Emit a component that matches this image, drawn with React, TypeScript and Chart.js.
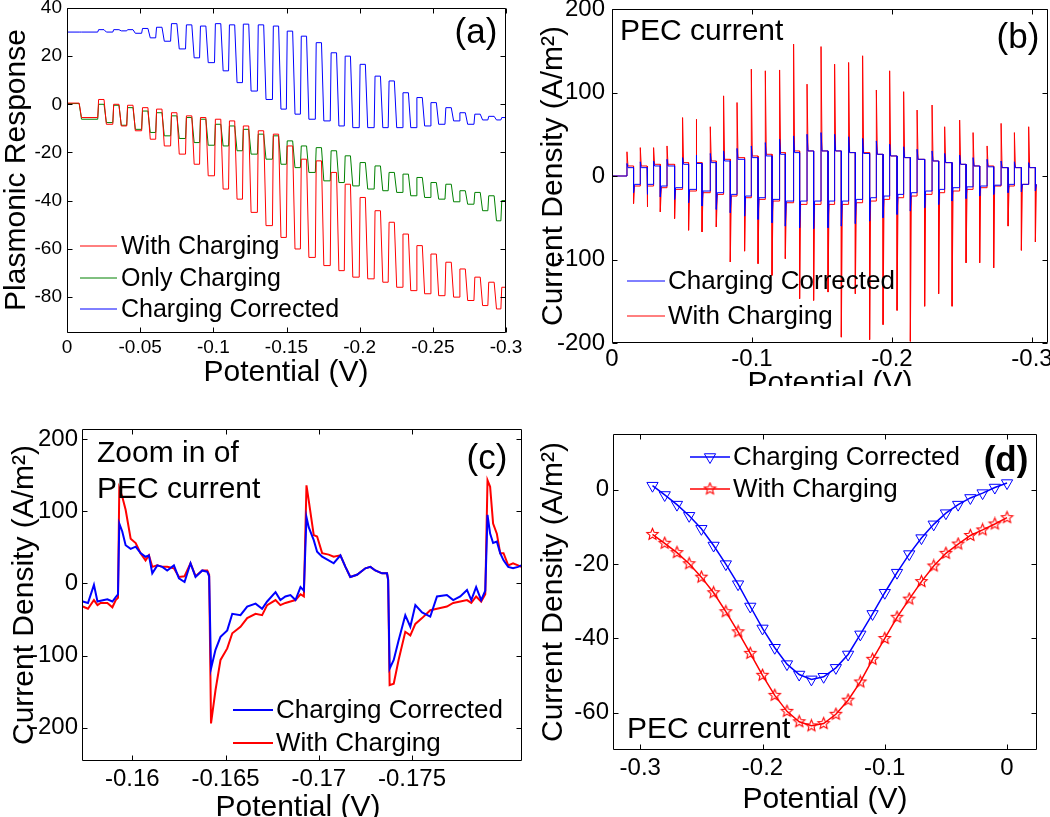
import React, { useEffect, useRef } from "react";
import { Chart, registerables } from "chart.js";

Chart.register(...registerables);

const FONT = "'Liberation Sans', Arial, Helvetica, sans-serif";
const RED = "rgb(255,0,0)";
const GREEN = "rgb(0,128,0)";
const BLUE = "rgb(0,0,255)";

// ---------------- Panel (a): plasmonic response ----------------
const A_X_TICKS = [0, -0.05, -0.1, -0.15, -0.2, -0.25, -0.3];
const A_X_LABELS = ["0", "-0.05", "-0.1", "-0.15", "-0.2", "-0.25", "-0.3"];
const A_Y_TICKS = [-80, -60, -40, -20, 0, 20, 40];
const A_Y_LABELS = ["-80", "-60", "-40", "-20", "0", "20", "40"];
// potentials where light switches on (rising edge) and off (falling edge)
const A_RISE = [-0.0213, -0.0316, -0.0411, -0.0513, -0.0609, -0.0711, -0.0813, -0.0909, -0.1011, -0.1107, -0.1202, -0.1304, -0.1407, -0.1502, -0.1598, -0.17, -0.1802, -0.1898, -0.2, -0.2102, -0.2198, -0.2293, -0.2388, -0.2484, -0.2586, -0.2682, -0.2784, -0.2879, -0.2968];
const A_FALL = [-0.0091, -0.0261, -0.0363, -0.0459, -0.0561, -0.0657, -0.0759, -0.0861, -0.0957, -0.1059, -0.1154, -0.125, -0.1352, -0.1454, -0.155, -0.1645, -0.1747, -0.185, -0.1945, -0.2047, -0.215, -0.2245, -0.2341, -0.2436, -0.2532, -0.2634, -0.273, -0.2832, -0.2927];
const A_RED_HI = [0.5, 2, 0, -0.4, -1.4, -2, -3.5, -4.8, -5.5, -6.2, -6.9, -9, -11, -12.4, -17.3, -22.8, -23.5, -28.3, -33.2, -38.7, -44.2, -49, -53.9, -58.7, -62.2, -65.6, -68.4, -71.8, -73.9, -76];
const A_RED_LO = [-5.5, -8.3, -9, -11, -14.5, -17.3, -20.7, -24.9, -29.7, -35.2, -39.4, -44.9, -50.4, -55.3, -60.1, -63.6, -67, -69.1, -71.8, -72.5, -73.9, -76, -77.4, -78.7, -79.5, -80.1, -81.5, -83.6, -85];
const A_GRN_HI = [0.3, 0, -0.4, -1.4, -2.8, -3.5, -4.8, -5.5, -6.2, -8.3, -9, -10.4, -12.4, -13.1, -15.2, -17.3, -18, -19.3, -21.4, -24.2, -25.6, -28.3, -29, -30.4, -32.5, -33.2, -35.9, -36.6, -38, -40];
const A_GRN_LO = [-6.2, -7.6, -8.7, -10.4, -11.7, -13.1, -14.2, -15.9, -17, -17.3, -19.3, -20.7, -22.8, -24.9, -26.3, -28.3, -31.8, -32.5, -33.9, -35.2, -35.9, -36.6, -38, -38.7, -39.4, -40.5, -41.5, -44.2, -48.4];
const A_BLU_HI = [30, 31, 31, 31, 31.5, 32, 33.5, 33, 32.5, 33.5, 33, 33.3, 33, 32.5, 30.4, 28.3, 25.6, 21.4, 20, 16.6, 11.7, 9.7, 4.8, 2.8, 0.7, -1.4, -3.5, -4.1, -5, -5.5];
const A_BLU_LO = [30, 30, 30.5, 29.5, 27.6, 26.2, 23, 19.3, 17.3, 13.9, 9, 5.5, 2, -2, -4.1, -6.2, -6.9, -9, -9.7, -9.7, -9.7, -9.7, -9.7, -9, -8.3, -6.9, -8.3, -6.5, -6.5];

// ---------------- Panel (b): PEC current ----------------
const B_X_TICKS = [0, -0.1, -0.2, -0.3];
const B_X_LABELS = ["0", "-0.1", "-0.2", "-0.3"];
const B_Y_TICKS = [-200, -100, 0, 100, 200];
const B_Y_LABELS = ["-200", "-100", "0", "100", "200"];
const B_UP_POT = [-0.0107, -0.0202, -0.0297, -0.0393, -0.0504, -0.06, -0.0702, -0.0797, -0.0893, -0.0995, -0.1095, -0.1197, -0.1297, -0.1393, -0.1493, -0.159, -0.169, -0.179, -0.1888, -0.1983, -0.2083, -0.2179, -0.2286, -0.2376, -0.2483, -0.2579, -0.2679, -0.2779, -0.2874, -0.2976];
const B_DN_POT = [-0.0154, -0.025, -0.0345, -0.0447, -0.0547, -0.0643, -0.0745, -0.0845, -0.0947, -0.1043, -0.1143, -0.1238, -0.134, -0.144, -0.1543, -0.1638, -0.1738, -0.184, -0.1936, -0.2036, -0.2131, -0.2233, -0.2333, -0.2429, -0.2529, -0.2626, -0.2726, -0.2829, -0.2924, -0.3024];
const B_RED_UP = [29, 34, 34, 36, 70, 68, 59, 96, 88, 128, 126, 127, 158, 110, 155, 134, 136, 144, 103, 126, 101, 79, 85, 59, 67, 52, 36, 63, 52, 59];
const B_RED_ON = [12, 12, 14, 14, 16, 16, 18, 20, 22, 24, 26, 28, 30, 30, 30, 30, 28, 28, 26, 24, 22, 20, 18, 16, 14, 12, 12, 10, 10, 10];
const B_RED_DN = [-33, -37, -43, -51, -65, -67, -61, -103, -90, -105, -119, -99, -147, -149, -139, -193, -141, -196, -178, -161, -198, -156, -141, -156, -104, -104, -110, -60, -89, -79];
const B_RED_OFF = [-12, -12, -14, -16, -18, -20, -22, -24, -26, -28, -30, -32, -34, -34, -34, -34, -32, -30, -28, -26, -24, -22, -20, -18, -16, -14, -12, -12, -10, -10];
const B_BLU_UP = [15, 17, 18, 20, 22, 25, 27, 30, 33, 36, 40, 44, 48, 50, 52, 50, 47, 45, 42, 38, 35, 32, 30, 27, 25, 22, 20, 18, 17, 16];
const B_BLU_ON = [10, 10, 12, 12, 14, 15, 16, 18, 20, 22, 24, 26, 28, 30, 30, 30, 28, 27, 26, 24, 22, 20, 18, 16, 14, 12, 11, 10, 10, 10];
const B_BLU_DN = [-20, -22, -25, -28, -32, -36, -40, -44, -48, -52, -56, -60, -62, -63, -62, -60, -57, -54, -50, -46, -42, -38, -34, -30, -27, -24, -22, -20, -19, -18];
const B_BLU_OFF = [-10, -10, -12, -14, -16, -18, -20, -22, -24, -26, -28, -30, -30, -30, -30, -30, -28, -26, -24, -22, -20, -18, -16, -14, -13, -12, -11, -10, -10, -10];

// ---------------- Panel (c): zoom of PEC current ----------------
const C_X_TICKS = [-0.16, -0.165, -0.17, -0.175];
const C_X_LABELS = ["-0.16", "-0.165", "-0.17", "-0.175"];
const C_Y_TICKS = [-200, -100, 0, 100, 200];
const C_Y_LABELS = ["-200", "-100", "0", "100", "200"];
const C_POT = [-0.15734, -0.15762, -0.15794, -0.15813, -0.1583, -0.15866, -0.15893, -0.15911, -0.15923, -0.1593, -0.15946, -0.15964, -0.15991, -0.16018, -0.16044, -0.16071, -0.16089, -0.16107, -0.16134, -0.16161, -0.16187, -0.16223, -0.1625, -0.1628, -0.16312, -0.16339, -0.16375, -0.16402, -0.16412, -0.16422, -0.16446, -0.16473, -0.16509, -0.16536, -0.1658, -0.16616, -0.16661, -0.16696, -0.16723, -0.16768, -0.16794, -0.16821, -0.16848, -0.16875, -0.16902, -0.1692, -0.16934, -0.16946, -0.16973, -0.16991, -0.17018, -0.17053, -0.1708, -0.17116, -0.17143, -0.17169, -0.17205, -0.1725, -0.17277, -0.17303, -0.17339, -0.17366, -0.17372, -0.1738, -0.17402, -0.17428, -0.17464, -0.17491, -0.17518, -0.17554, -0.17598, -0.17634, -0.17687, -0.17721, -0.17759, -0.17795, -0.17818, -0.17844, -0.17871, -0.17893, -0.17905, -0.17919, -0.17935, -0.17955, -0.17973, -0.17991, -0.18016, -0.18042, -0.18069, -0.18085];
const C_BLUE = [-25, -27, -2, -25, -24, -22, -25, -19, -15, 83, 72, 53, 48, 51, 42, 37, 39, 14, 25, 23, 18, 25, 7, 2, 28, 9, 18, 16, 10, -118, -92, -74, -65, -42, -44, -32, -28, -35, -25, -12, -23, -18, -16, -23, -5, -10, 92, 78, 60, 44, 37, 32, 28, 39, 23, 9, 12, 21, 23, 18, 14, 14, 5, -118, -106, -79, -44, -60, -30, -40, -46, -18, -16, -23, -18, -9, -23, -5, -23, -10, 95, 69, 56, 58, 42, 32, 23, 21, 23, 25];
const C_RED = [-32, -35, -23, -30, -27, -27, -33, -23, -20, 132, 120, 102, 62, 56, 42, 32, 39, 23, 25, 23, 23, 21, 9, 10, 28, 10, 18, 18, 12, -194, -148, -106, -90, -69, -60, -48, -42, -44, -30, -23, -30, -27, -25, -23, -15, -18, 136, 115, 67, 65, 42, 40, 37, 39, 23, 9, 12, 21, 23, 18, 14, 14, 5, -141, -139, -106, -67, -72, -56, -48, -37, -35, -32, -27, -25, -23, -27, -18, -25, -15, 143, 134, 83, 69, 42, 42, 25, 28, 25, 23];

// ---------------- Panel (d): average PEC current ----------------
const D_X_TICKS = [-0.3, -0.2, -0.1, 0];
const D_X_LABELS = ["-0.3", "-0.2", "-0.1", "0"];
const D_Y_TICKS = [-60, -40, -20, 0];
const D_Y_LABELS = ["-60", "-40", "-20", "0"];
const D_POT = [-0.29, -0.28, -0.27, -0.26, -0.25, -0.24, -0.23, -0.22, -0.21, -0.2, -0.19, -0.18, -0.17, -0.16, -0.15, -0.14, -0.13, -0.12, -0.11, -0.1, -0.09, -0.08, -0.07, -0.06, -0.05, -0.04, -0.03, -0.02, -0.01, 0];
const D_BLUE = [1.1, -1.4, -4.0, -7.0, -10.5, -15.0, -20.0, -25.4, -31.4, -37.3, -42.5, -46.9, -49.7, -51.0, -50.3, -47.9, -44.3, -38.9, -33.4, -27.7, -22.3, -17.3, -13.0, -9.3, -6.3, -4.0, -2.2, -0.9, 0.6, 1.8];
const D_RED = [-12.0, -14.4, -16.9, -19.9, -23.5, -27.7, -32.8, -38.2, -44.0, -49.9, -55.3, -59.6, -62.4, -63.5, -62.9, -60.4, -56.6, -51.7, -45.6, -40.0, -34.3, -29.4, -24.7, -20.5, -17.1, -14.6, -12.3, -10.8, -9.2, -7.5];

// ---------------- builders ----------------
type Pt = { x: number; y: number };

// rw / fw: widths (in V) of the rising / falling transitions (drawing style only)
function squareWave(rise: number[], fall: number[], hi: number[], lo: number[], xStart: number, xEnd: number, rw: number, fw: number): Pt[] {
  const pts: Pt[] = [{ x: xStart, y: hi[0] }, { x: fall[0] + fw / 2, y: hi[0] }, { x: fall[0] - fw / 2, y: lo[0] }];
  for (let k = 0; k < rise.length; k++) {
    pts.push({ x: rise[k] + rw / 2, y: lo[k] }, { x: rise[k] - rw / 2, y: hi[k + 1] });
    if (k + 1 < fall.length) pts.push({ x: fall[k + 1] + fw / 2, y: hi[k + 1] }, { x: fall[k + 1] - fw / 2, y: lo[k + 1] });
    else pts.push({ x: xEnd, y: hi[k + 1] });
  }
  return pts;
}

function pulses(upPot: number[], dnPot: number[], up: number[], on: number[], dn: number[], off: number[], xStart: number, xEnd: number, w: number): Pt[] {
  const pts: Pt[] = [{ x: xStart, y: 0 }];
  for (let k = 0; k < upPot.length; k++) {
    const prev = k === 0 ? 0 : off[k - 1];
    pts.push({ x: upPot[k], y: prev }, { x: upPot[k], y: up[k] }, { x: upPot[k] - w, y: on[k] });
    pts.push({ x: dnPot[k], y: on[k] }, { x: dnPot[k], y: dn[k] }, { x: dnPot[k] - w, y: off[k] });
  }
  pts.push({ x: xEnd, y: off[off.length - 1] });
  return pts;
}

function zipPts(xs: number[], ys: number[]): Pt[] {
  return xs.map((x, i) => ({ x, y: ys[i] }));
}

function starCanvas(color: string, r: number) {
  const s = Math.ceil(r * 2 + 3);
  const c = document.createElement("canvas");
  c.width = s;
  c.height = s;
  const g = c.getContext("2d")!;
  g.strokeStyle = color;
  g.lineWidth = 1.1;
  g.beginPath();
  for (let i = 0; i < 10; i++) {
    const a = -Math.PI / 2 + (i * Math.PI) / 5;
    const rr = i % 2 === 0 ? r : r * 0.45;
    const px = s / 2 + rr * Math.cos(a);
    const py = s / 2 + rr * Math.sin(a);
    if (i === 0) g.moveTo(px, py);
    else g.lineTo(px, py);
  }
  g.closePath();
  g.stroke();
  return c;
}

// ---------------- frame / annotation plugin ----------------
type Txt = { text: string; x: number; y: number; size: number; bold?: boolean; rot?: boolean; align?: CanvasTextAlign };
type LegItem = { label: string; color: string; y: number; lw: number; marker?: "tri" | "star" };
type Leg = { x1: number; x2: number; tx: number; size: number; items: LegItem[] };

const framePlugin = {
  id: "frame",
  afterDraw(chart: any, _args: any, opts: any) {
    const { ctx, chartArea: ca, scales } = chart;
    ctx.save();
    const L = Math.round(ca.left) + 0.5;
    const R = Math.round(ca.right) - 0.5;
    const T = Math.round(ca.top) + 0.5;
    const B = Math.round(ca.bottom) - 0.5;
    ctx.strokeStyle = "#000";
    ctx.lineWidth = 1;
    ctx.beginPath();
    ctx.rect(L, T, R - L, B - T);
    ctx.stroke();
    const tl = 5;
    ctx.beginPath();
    for (const t of scales.x.ticks) {
      const p = Math.round(scales.x.getPixelForValue(t.value)) + 0.5;
      ctx.moveTo(p, B);
      ctx.lineTo(p, B - tl);
      ctx.moveTo(p, T);
      ctx.lineTo(p, T + tl);
    }
    for (const t of scales.y.ticks) {
      const p = Math.round(scales.y.getPixelForValue(t.value)) + 0.5;
      ctx.moveTo(L, p);
      ctx.lineTo(L + tl, p);
      ctx.moveTo(R, p);
      ctx.lineTo(R - tl, p);
    }
    ctx.stroke();

    const texts: Txt[] = opts.texts || [];
    for (const t of texts) {
      ctx.save();
      ctx.font = `${t.bold ? "bold " : ""}${t.size}px ${FONT}`;
      ctx.fillStyle = "#000";
      ctx.textAlign = t.align || "left";
      ctx.textBaseline = "alphabetic";
      ctx.translate(t.x, t.y);
      if (t.rot) ctx.rotate(-Math.PI / 2);
      ctx.fillText(t.text, 0, 0);
      ctx.restore();
    }

    const leg: Leg | undefined = opts.legend;
    if (leg) {
      for (const it of leg.items) {
        ctx.strokeStyle = it.color;
        ctx.lineWidth = it.lw;
        ctx.beginPath();
        ctx.moveTo(leg.x1, it.y);
        ctx.lineTo(leg.x2, it.y);
        ctx.stroke();
        const mx = (leg.x1 + leg.x2) / 2;
        if (it.marker === "tri") {
          const r = 6.5;
          ctx.lineWidth = 1;
          ctx.beginPath();
          ctx.moveTo(mx, it.y + r);
          ctx.lineTo(mx - r * 0.866, it.y - r / 2);
          ctx.lineTo(mx + r * 0.866, it.y - r / 2);
          ctx.closePath();
          ctx.stroke();
        } else if (it.marker === "star") {
          const img = opts.starImg;
          if (img) ctx.drawImage(img, mx - img.width / 2, it.y - img.height / 2);
        }
        ctx.fillStyle = "#000";
        ctx.font = `${leg.size}px ${FONT}`;
        ctx.textAlign = "left";
        ctx.textBaseline = "middle";
        ctx.fillText(it.label, leg.tx, it.y + 1);
      }
    }
    ctx.restore();
  },
};

// ---------------- panel spec ----------------
type Spec = {
  width: number;
  height: number;
  area: { left: number; top: number; right: number; bottom: number };
  xMin: number;
  xMax: number;
  xReverse: boolean;
  xTicks: number[];
  xLabels: string[];
  yMin: number;
  yMax: number;
  yTicks: number[];
  yLabels: string[];
  tickSize: number;
  xPad: number;
  yPad: number;
  datasets: any[];
  texts: Txt[];
  legend?: Leg;
  starImg?: HTMLCanvasElement;
};

function makeConfig(p: Spec): any {
  return {
    type: "line",
    data: { datasets: p.datasets },
    options: {
      responsive: false,
      animation: false,
      devicePixelRatio: 1,
      events: [],
      layout: { padding: { left: 0, top: p.area.top, right: p.width - p.area.right, bottom: 0 } },
      elements: { point: { radius: 0 }, line: { tension: 0 } },
      plugins: {
        legend: { display: false },
        tooltip: { enabled: false },
        frame: { texts: p.texts, legend: p.legend, starImg: p.starImg },
      },
      scales: {
        x: {
          type: "linear",
          min: p.xMin,
          max: p.xMax,
          reverse: p.xReverse,
          grid: { display: false, drawTicks: false },
          border: { display: false },
          ticks: {
            color: "#000",
            font: { family: FONT, size: p.tickSize },
            padding: p.xPad,
            autoSkip: false,
            maxRotation: 0,
            minRotation: 0,
            callback: (_v: any, i: number) => p.xLabels[i],
          },
          afterBuildTicks: (ax: any) => {
            ax.ticks = p.xTicks.map((v) => ({ value: v }));
          },
          afterFit: (ax: any) => {
            ax.height = p.height - p.area.bottom;
            ax.paddingLeft = 0;
            ax.paddingRight = 0;
          },
        },
        y: {
          type: "linear",
          min: p.yMin,
          max: p.yMax,
          grid: { display: false, drawTicks: false },
          border: { display: false },
          ticks: {
            color: "#000",
            font: { family: FONT, size: p.tickSize },
            padding: p.yPad,
            autoSkip: false,
            callback: (_v: any, i: number) => p.yLabels[i],
          },
          afterBuildTicks: (ax: any) => {
            ax.ticks = p.yTicks.map((v) => ({ value: v }));
          },
          afterFit: (ax: any) => {
            ax.width = p.area.left;
            ax.paddingTop = 0;
            ax.paddingBottom = 0;
          },
        },
      },
    },
    plugins: [framePlugin],
  };
}

function line(label: string, data: Pt[], color: string, width: number, extra: any = {}) {
  return { label, data, borderColor: color, backgroundColor: color, borderWidth: width, pointRadius: 0, fill: false, tension: 0, ...extra };
}

function specA(): Spec {
  const rw = 0.0006;
  const fw = 0.0016;
  return {
    width: 525, height: 392,
    area: { left: 67, top: 8, right: 506, bottom: 333 },
    xMin: -0.3, xMax: 0, xReverse: true, xTicks: A_X_TICKS, xLabels: A_X_LABELS,
    yMin: -95, yMax: 40, yTicks: A_Y_TICKS, yLabels: A_Y_LABELS,
    tickSize: 19, xPad: 3, yPad: 5,
    datasets: [
      line("With Charging", squareWave(A_RISE, A_FALL, A_RED_HI, A_RED_LO, 0, -0.3, rw, fw), RED, 1),
      line("Only Charging", squareWave(A_RISE, A_FALL, A_GRN_HI, A_GRN_LO, 0, -0.3, rw, fw), GREEN, 1),
      line("Charging Corrected", squareWave(A_RISE, A_FALL, A_BLU_HI, A_BLU_LO, 0, -0.3, rw, fw), BLUE, 1),
    ],
    texts: [
      { text: "(a)", x: 476, y: 43, size: 35, align: "center" },
      { text: "Potential (V)", x: 286, y: 381, size: 30, align: "center" },
      { text: "Plasmonic Response", x: 25, y: 170, size: 30, align: "center", rot: true },
    ],
    legend: {
      x1: 80, x2: 117, tx: 121, size: 25,
      items: [
        { label: "With Charging", color: RED, y: 246, lw: 1 },
        { label: "Only Charging", color: GREEN, y: 278, lw: 1 },
        { label: "Charging Corrected", color: BLUE, y: 309, lw: 1 },
      ],
    },
  };
}

function specB(): Spec {
  const w = 0.0007;
  return {
    width: 525, height: 386,
    area: { left: 87, top: 9, right: 523, bottom: 343 },
    xMin: -0.3114, xMax: 0, xReverse: true, xTicks: B_X_TICKS, xLabels: B_X_LABELS,
    yMin: -200, yMax: 200, yTicks: B_Y_TICKS, yLabels: B_Y_LABELS,
    tickSize: 24, xPad: 2, yPad: 7,
    datasets: [
      line("Charging Corrected", pulses(B_UP_POT, B_DN_POT, B_BLU_UP, B_BLU_ON, B_BLU_DN, B_BLU_OFF, 0, -0.3035, w), BLUE, 1),
      line("With Charging", pulses(B_UP_POT, B_DN_POT, B_RED_UP, B_RED_ON, B_RED_DN, B_RED_OFF, 0, -0.3035, w), RED, 1),
    ],
    texts: [
      { text: "PEC current", x: 95, y: 40, size: 30 },
      { text: "(b)", x: 493, y: 48, size: 35, align: "center" },
      { text: "Potential (V)", x: 305, y: 392, size: 30, align: "center" },
      { text: "Current Density (A/m\u00B2)", x: 37, y: 176, size: 30, align: "center", rot: true },
    ],
    legend: {
      x1: 102, x2: 140, tx: 143, size: 26,
      items: [
        { label: "Charging Corrected", color: BLUE, y: 281, lw: 1 },
        { label: "With Charging", color: RED, y: 316, lw: 1 },
      ],
    },
  };
}

function specC(): Spec {
  return {
    width: 525, height: 422,
    area: { left: 82, top: 34, right: 522, bottom: 366 },
    xMin: -0.1809, xMax: -0.1573, xReverse: true, xTicks: C_X_TICKS, xLabels: C_X_LABELS,
    yMin: -246, yMax: 214, yTicks: C_Y_TICKS, yLabels: C_Y_LABELS,
    tickSize: 24, xPad: 4, yPad: 4,
    datasets: [
      line("Charging Corrected", zipPts(C_POT, C_BLUE), BLUE, 2),
      line("With Charging", zipPts(C_POT, C_RED), RED, 2),
    ],
    texts: [
      { text: "Zoom in of", x: 97, y: 67, size: 30 },
      { text: "PEC current", x: 97, y: 103, size: 30 },
      { text: "(c)", x: 487, y: 74, size: 35, align: "center" },
      { text: "Potential (V)", x: 298, y: 421, size: 30, align: "center" },
      { text: "Current Density (A/m\u00B2)", x: 33, y: 200, size: 30, align: "center", rot: true },
    ],
    legend: {
      x1: 233, x2: 273, tx: 276, size: 26,
      items: [
        { label: "Charging Corrected", color: BLUE, y: 315, lw: 2 },
        { label: "With Charging", color: RED, y: 348, lw: 2 },
      ],
    },
  };
}

function specD(): Spec {
  const star = starCanvas(RED, 6);
  return {
    width: 525, height: 417,
    area: { left: 88, top: 34, right: 512, bottom: 350 },
    xMin: -0.3223, xMax: 0.0245, xReverse: false, xTicks: D_X_TICKS, xLabels: D_X_LABELS,
    yMin: -70, yMax: 15, yTicks: D_Y_TICKS, yLabels: D_Y_LABELS,
    tickSize: 24, xPad: 4, yPad: 4,
    starImg: star,
    datasets: [
      line("Charging Corrected", zipPts(D_POT, D_BLUE), BLUE, 1.5, {
        pointRadius: 6.5, pointStyle: "triangle", rotation: 180, pointBorderColor: BLUE,
        pointBackgroundColor: "rgba(0,0,0,0)", pointBorderWidth: 1,
      }),
      line("With Charging", zipPts(D_POT, D_RED), RED, 1.5, {
        pointRadius: 6, pointStyle: star, pointBorderColor: RED, pointBackgroundColor: "rgba(0,0,0,0)",
      }),
    ],
    texts: [
      { text: "PEC current", x: 102, y: 338, size: 30 },
      { text: "(d)", x: 481, y: 71, size: 35, align: "center", bold: true },
      { text: "Potential (V)", x: 300, y: 408, size: 30, align: "center" },
      { text: "Current Density (A/m\u00B2)", x: 37, y: 192, size: 30, align: "center", rot: true },
    ],
    legend: {
      x1: 165, x2: 205, tx: 208, size: 26,
      items: [
        { label: "Charging Corrected", color: BLUE, y: 57, lw: 1.5, marker: "tri" },
        { label: "With Charging", color: RED, y: 89, lw: 1.5, marker: "star" },
      ],
    },
  };
}

const PANELS = [
  { key: "a", make: specA, left: 0, top: 0, width: 525, height: 392 },
  { key: "b", make: specB, left: 525, top: 0, width: 525, height: 386 },
  { key: "c", make: specC, left: 0, top: 395, width: 525, height: 422 },
  { key: "d", make: specD, left: 525, top: 400, width: 525, height: 417 },
];

function Panel({ make, left, top, width, height }: { make: () => Spec; left: number; top: number; width: number; height: number }) {
  const ref = useRef<HTMLCanvasElement | null>(null);
  useEffect(() => {
    if (!ref.current) return;
    const chart = new Chart(ref.current, makeConfig(make()));
    return () => chart.destroy();
  }, [make]);
  return (
    <canvas
      ref={ref}
      width={width}
      height={height}
      style={{ position: "absolute", left, top, width, height, display: "block" }}
    />
  );
}

export default function App() {
  return (
    <div style={{ position: "fixed", left: 0, top: 0, width: 1050, height: 817, background: "#fff", overflow: "hidden" }}>
      {PANELS.map((p) => (
        <Panel key={p.key} make={p.make} left={p.left} top={p.top} width={p.width} height={p.height} />
      ))}
    </div>
  );
}
